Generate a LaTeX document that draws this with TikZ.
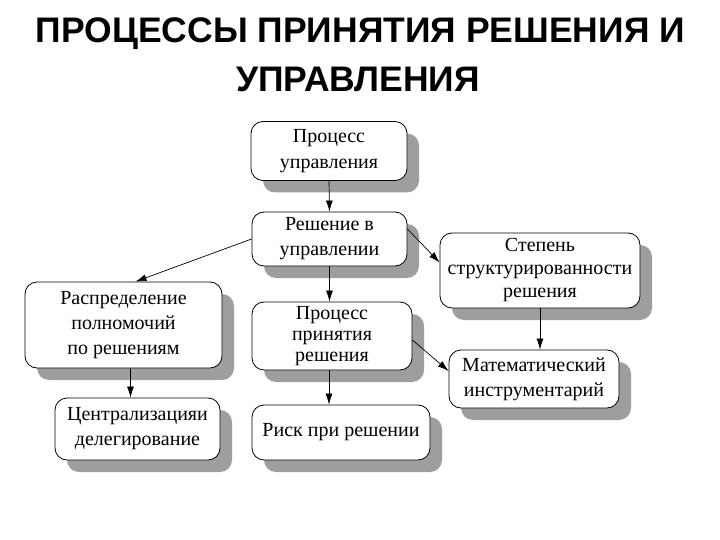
\documentclass[tikz,border=0pt]{standalone}
\usepackage{fontspec}
\setmainfont{Liberation Serif}
\newfontfamily\titlefont{Liberation Sans}
\usetikzlibrary{shadows,arrows.meta}
\begin{document}
\begin{tikzpicture}[x=1pt,y=-1pt,
  box/.style={draw=black,line width=0.8pt,fill=white,rounded corners=12pt,
    drop shadow={shadow xshift=12pt,shadow yshift=-12pt,fill=black!38,opacity=1},
    align=center,inner sep=0pt,font=\fontsize{20}{23}\selectfont},
  arr/.style={line width=0.7pt,-{Latex[length=11pt,width=7pt]}},
  ttl/.style={font=\titlefont\bfseries\fontsize{35.5}{40}\selectfont,inner sep=0pt,anchor=base}]
\useasboundingbox[fill=white] (0,0) rectangle (720,540);
\node[ttl] (t1) at (360.5,43) {ПРОЦЕССЫ ПРИНЯТИЯ РЕШЕНИЯ И};
\node[ttl] (t2) at (358,92) {УПРАВЛЕНИЯ};
\node[box,minimum width=156pt,minimum height=59pt,font=\fontsize{20}{26}\selectfont] (b1) at (329,151) {Процесс\\управления};
\node[box,minimum width=155pt,minimum height=54pt,font=\fontsize{20}{25}\selectfont] (b2) at (329.5,239) {Решение в\\управлении};
\node[box,minimum width=200pt,minimum height=75pt] (b3) at (540,270.5) {Степень\\структурированности\\решения};
\node[box,minimum width=170pt,minimum height=58pt,font=\fontsize{20}{25}\selectfont] (b4) at (534,379) {Математический\\инструментарий};
\node[box,minimum width=197pt,minimum height=86pt,font=\fontsize{20}{25}\selectfont] (b5) at (123.5,325) {Распределение\\полномочий\\по решениям};
\node[box,minimum width=165pt,minimum height=62pt,font=\fontsize{20}{25}\selectfont] (b6) at (137.5,429) {Централизацияи\\делегирование};
\node[box,minimum width=160pt,minimum height=68pt,font=\fontsize{20}{21}\selectfont] (b7) at (332,336) {Процесс\\принятия\\решения};
\node[box,minimum width=178pt,minimum height=55pt] (b8) at (341,432.5) {Риск при решении};
\draw[arr] (b1.south) -- (b2.north);
\draw[arr] (b2.west) -- ([xshift=12pt]b5.north);
\draw[arr] ([yshift=10pt]b2.east) -- ([yshift=8pt]b3.west);
\draw[arr] (b2.south) -- (b2.south |- b7.north);
\draw[arr] ([yshift=-4pt]b7.east) -- ([yshift=8pt]b4.west);
\draw[arr] (b3.south) -- (b3.south |- b4.north);
\draw[arr] ([xshift=7pt]b5.south) -- ([xshift=7pt]b5.south |- b6.north);
\draw[arr] ([xshift=-3pt]b7.south) -- ([xshift=-3pt]b7.south |- b8.north);
\end{tikzpicture}
\end{document}
